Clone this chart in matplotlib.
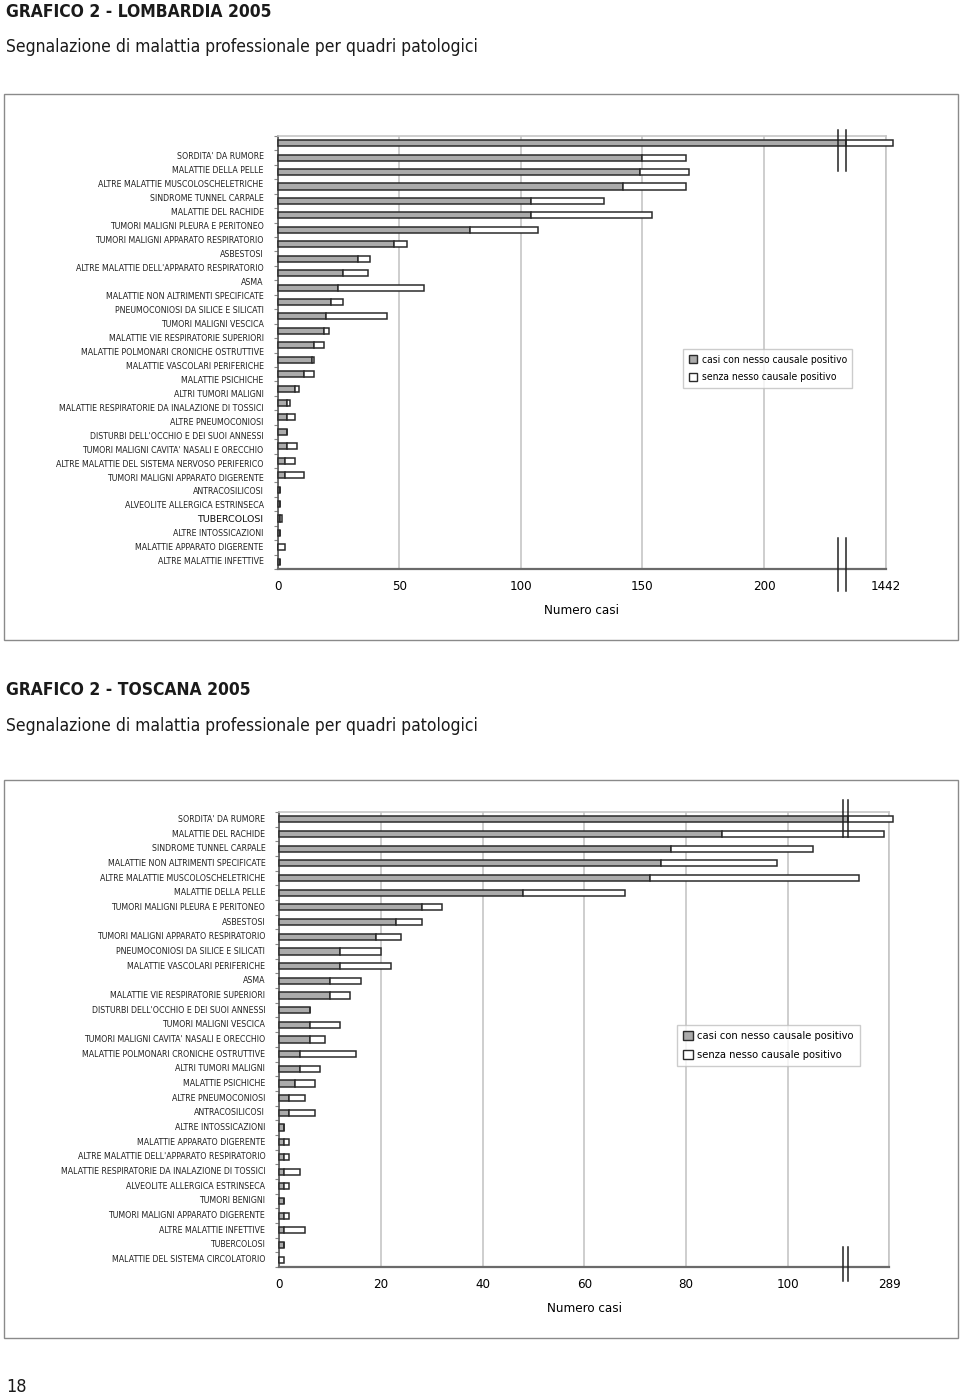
import matplotlib
matplotlib.use('Agg')
import matplotlib.pyplot as plt
import matplotlib.transforms as mtransforms
from matplotlib.patches import Patch, Rectangle
import numpy as np

plt.rcParams['font.family'] = ['DejaVu Sans']
plt.rcParams['font.stretch'] = 'condensed'

W, H = 960, 1397

# ---- Lombardia 2005 (first bar is cut by an axis break, values in axis units)
lom_labels = [
    "SORDITA' DA RUMORE", "MALATTIE DELLA PELLE", "ALTRE MALATTIE MUSCOLOSCHELETRICHE",
    "SINDROME TUNNEL CARPALE", "MALATTIE DEL RACHIDE", "TUMORI MALIGNI PLEURA E PERITONEO",
    "TUMORI MALIGNI APPARATO RESPIRATORIO", "ASBESTOSI",
    "ALTRE MALATTIE DELL'APPARATO RESPIRATORIO", "ASMA",
    "MALATTIE NON ALTRIMENTI SPECIFICATE", "PNEUMOCONIOSI DA SILICE E SILICATI",
    "TUMORI MALIGNI VESCICA", "MALATTIE VIE RESPIRATORIE SUPERIORI",
    "MALATTIE POLMONARI CRONICHE OSTRUTTIVE", "MALATTIE VASCOLARI PERIFERICHE",
    "MALATTIE PSICHICHE", "ALTRI TUMORI MALIGNI",
    "MALATTIE RESPIRATORIE DA INALAZIONE DI TOSSICI", "ALTRE PNEUMOCONIOSI",
    "DISTURBI DELL'OCCHIO E DEI SUOI ANNESSI", "TUMORI MALIGNI CAVITA' NASALI E ORECCHIO",
    "ALTRE MALATTIE DEL SISTEMA NERVOSO PERIFERICO", "TUMORI MALIGNI APPARATO DIGERENTE",
    "ANTRACOSILICOSI", "ALVEOLITE ALLERGICA ESTRINSECA", "TUBERCOLOSI",
    "ALTRE INTOSSICAZIONI", "MALATTIE APPARATO DIGERENTE", "ALTRE MALATTIE INFETTIVE",
]
lom_con = [233.5, 150, 149, 142, 104, 104, 79, 48, 33, 27, 25, 22, 20, 19, 15,
           14, 11, 7, 4, 4, 4, 4, 3, 3, 1, 1, 1, 1, 0, 1]
lom_senza = [19.5, 18, 20, 26, 30, 50, 28, 5, 5, 10, 35, 5, 25, 2, 4,
             1, 4, 2, 1, 3, 0, 4, 4, 8, 0, 0, 1, 0, 3, 0]
lom_ticks = [0, 50, 100, 150, 200, 250]
lom_ticklabels = ['0', '50', '100', '150', '200', '1442']
lom_break = [230.3, 233.5]

# ---- Toscana 2005
tos_labels = [
    "SORDITA' DA RUMORE", "MALATTIE DEL RACHIDE", "SINDROME TUNNEL CARPALE",
    "MALATTIE NON ALTRIMENTI SPECIFICATE", "ALTRE MALATTIE MUSCOLOSCHELETRICHE",
    "MALATTIE DELLA PELLE", "TUMORI MALIGNI PLEURA E PERITONEO", "ASBESTOSI",
    "TUMORI MALIGNI APPARATO RESPIRATORIO", "PNEUMOCONIOSI DA SILICE E SILICATI",
    "MALATTIE VASCOLARI PERIFERICHE", "ASMA", "MALATTIE VIE RESPIRATORIE SUPERIORI",
    "DISTURBI DELL'OCCHIO E DEI SUOI ANNESSI", "TUMORI MALIGNI VESCICA",
    "TUMORI MALIGNI CAVITA' NASALI E ORECCHIO", "MALATTIE POLMONARI CRONICHE OSTRUTTIVE",
    "ALTRI TUMORI MALIGNI", "MALATTIE PSICHICHE", "ALTRE PNEUMOCONIOSI",
    "ANTRACOSILICOSI", "ALTRE INTOSSICAZIONI", "MALATTIE APPARATO DIGERENTE",
    "ALTRE MALATTIE DELL'APPARATO RESPIRATORIO",
    "MALATTIE RESPIRATORIE DA INALAZIONE DI TOSSICI", "ALVEOLITE ALLERGICA ESTRINSECA",
    "TUMORI BENIGNI", "TUMORI MALIGNI APPARATO DIGERENTE", "ALTRE MALATTIE INFETTIVE",
    "TUBERCOLOSI", "MALATTIE DEL SISTEMA CIRCOLATORIO",
]
tos_con = [111.8, 87, 77, 75, 73, 48, 28, 23, 19, 12, 12, 10, 10, 6, 6, 6,
           4, 4, 3, 2, 2, 1, 1, 1, 1, 1, 1, 1, 1, 1, 0]
tos_senza = [9, 32, 28, 23, 41, 20, 4, 5, 5, 8, 10, 6, 4, 0, 6, 3,
             11, 4, 4, 3, 5, 0, 1, 1, 3, 1, 0, 1, 4, 0, 1]
tos_ticks = [0, 20, 40, 60, 80, 100, 120]
tos_ticklabels = ['0', '20', '40', '60', '80', '100', '289']
tos_break = [110.8, 111.8]

legend_labels = ['casi con nesso causale positivo', 'senza nesso causale positivo']
GRAY = '#ababab'
EDGE = '#2b2b2b'


def fx(p):
    return p / W


def fy(p):
    return 1 - p / H


def draw_chart(ax, labels, con, senza, ticks, ticklabels, brk, label_pos,
               brk_top, brk_bot, leg_xy, leg_size, odd_label=None):
    n = len(con)
    y = np.arange(n)
    ax.barh(y, con, height=0.42, color=GRAY, edgecolor=EDGE, lw=1.1, clip_on=False, zorder=3)
    ax.barh(y, senza, left=con, height=0.42, color='white', edgecolor=EDGE, lw=1.1,
            clip_on=False, zorder=3)
    ax.set_ylim(n - 0.5, -0.5)
    ax.set_xlim(ticks[0], ticks[-1])
    ax.set_xticks(ticks)
    ax.set_xticklabels(ticklabels, fontsize=9.5)
    ax.tick_params(axis='x', length=0, pad=8)
    ax.set_yticks([])
    ax.set_yticks(np.arange(n + 1) - 0.5, minor=True)
    ax.tick_params(axis='y', which='minor', length=3, color='#888888', width=0.8)
    ax.grid(axis='x', color='#c6c6c6', lw=1.2)
    ax.set_axisbelow(True)
    for s in ['top', 'right']:
        ax.spines[s].set_color('#c6c6c6')
        ax.spines[s].set_linewidth(1.2)
    ax.spines['left'].set_color('#555555')
    ax.spines['left'].set_linewidth(1.2)
    ax.spines['bottom'].set_color('#6a6a6a')
    ax.spines['bottom'].set_linewidth(1.6)
    ax.set_xlabel('Numero casi', fontsize=9.5, labelpad=8)

    # category labels (placed as separate texts, as in the original layout)
    tr_lab = mtransforms.blended_transform_factory(ax.transAxes, ax.transData)
    for lab, yp in zip(labels, label_pos):
        if lab == odd_label:
            ax.text(-0.023, yp, lab, transform=tr_lab, ha='right', va='center',
                    fontsize=6.8, fontstretch='normal', color='#111111')
        else:
            ax.text(-0.023, yp, lab, transform=tr_lab, ha='right', va='center',
                    fontsize=6.35, color='#222222')

    # axis break marks
    tr = mtransforms.blended_transform_factory(ax.transData, ax.transAxes)
    for xb in brk:
        ax.plot([xb, xb], brk_top, transform=tr, color='#222222', lw=1.1, clip_on=False, zorder=5)
        ax.plot([xb, xb], brk_bot, transform=tr, color='#222222', lw=1.1, clip_on=False, zorder=5)

    handles = [Patch(facecolor=GRAY, edgecolor=EDGE, lw=1.0),
               Patch(facecolor='white', edgecolor=EDGE, lw=1.0)]
    leg = ax.legend(handles, legend_labels, loc='upper left', bbox_to_anchor=leg_xy,
                    bbox_transform=ax.figure.transFigure, fontsize=leg_size, frameon=True,
                    fancybox=False, handlelength=0.85, handleheight=0.85,
                    handletextpad=0.4, borderpad=0.55, labelspacing=0.75,
                    borderaxespad=0)
    leg.get_frame().set_edgecolor('#c0c0c0')
    leg.get_frame().set_linewidth(1.0)


fig = plt.figure(figsize=(9.6, 13.97), dpi=100)

# outer frames
fig.add_artist(Rectangle((fx(4), fy(640)), fx(954), 546 / H, transform=fig.transFigure,
                         fill=False, ec='#8a8a8a', lw=1.0))
fig.add_artist(Rectangle((fx(4), fy(1338)), fx(954), 558 / H, transform=fig.transFigure,
                         fill=False, ec='#8a8a8a', lw=1.0))

# titles
fig.text(fx(6), fy(12), 'GRAFICO 2 - LOMBARDIA 2005', fontsize=12.5, fontweight='bold',
         va='center', ha='left', color='#1a1a1a')
fig.text(fx(6), fy(47), 'Segnalazione di malattia professionale per quadri patologici',
         fontsize=12.5, va='center', ha='left', color='#1a1a1a')
fig.text(fx(6), fy(690), 'GRAFICO 2 - TOSCANA 2005', fontsize=12.5, fontweight='bold',
         va='center', ha='left', color='#1a1a1a')
fig.text(fx(6), fy(726), 'Segnalazione di malattia professionale per quadri patologici',
         fontsize=12.5, va='center', ha='left', color='#1a1a1a')
fig.text(fx(6), fy(1387), '18', fontsize=13, va='center', ha='left', color='#1a1a1a')

ax1 = fig.add_axes([fx(277.6), fy(569), fx(885.7 - 277.6), 433 / H])
draw_chart(ax1, lom_labels, lom_con, lom_senza, lom_ticks, lom_ticklabels, lom_break,
           np.linspace(0.95, 29.0, len(lom_labels)),
           [1.014, 0.919], [0.072, -0.051], (fx(683), fy(349)), 7.4,
           odd_label='TUBERCOLOSI')

ax2 = fig.add_axes([fx(279.3), fy(1267), fx(889.3 - 279.3), 455 / H])
draw_chart(ax2, tos_labels, tos_con, tos_senza, tos_ticks, tos_ticklabels, tos_break,
           np.arange(len(tos_labels)),
           [1.026, 0.945], [0.044, -0.031], (fx(677), fy(1025)), 8)

fig.savefig('out.png', dpi=100)
